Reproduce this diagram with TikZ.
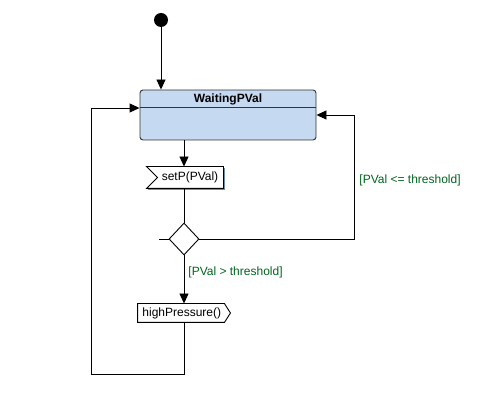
\documentclass[tikz,border=0pt]{standalone}
\usepackage{fontspec}
\setmainfont{Liberation Sans}
\usetikzlibrary{arrows.meta,shapes.geometric,calc}
\definecolor{statefill}{RGB}{197,217,241}
\definecolor{guard}{RGB}{0,100,30}
\definecolor{edgeblue}{RGB}{110,140,165}
\begin{document}
\begin{tikzpicture}[x=1pt,y=-1pt,line width=0.9pt,
  arr/.style={-{Triangle[length=10pt,width=9pt]}},
  lbl/.style={font=\fontsize{12}{14}\selectfont},
  guardlbl/.style={lbl,text=guard,anchor=west,inner sep=0pt},
  box/.style={draw=none,inner sep=0pt}]
\useasboundingbox (0,0) rectangle (479,419);
% initial
\node[circle,fill=black,minimum size=14pt,inner sep=0pt] (init) at (161,20) {};
% state
\node[draw=black!80,fill=statefill,rounded corners=3pt,minimum width=176pt,minimum height=50pt,inner sep=0pt] (state) at (228,115) {};
\draw[black!80] (140,107) -- (316,107);
\node[lbl,font=\fontsize{12}{14}\selectfont\bfseries,inner sep=0pt] (title) at (228,99) {WaitingPVal};
% setP receive signal
\node[box,minimum width=76pt,minimum height=21pt] (setp) at (185,177.5) {};
\draw[edgeblue,line width=1.5pt] ($(setp.north east)+(1,1)$) -- ($(setp.south east)+(1,1)$) -- ($(setp.south west)+(1,1)$);
\draw[fill=white] (setp.north west) -- (setp.north east) -- (setp.south east) -- (setp.south west) -- ($(setp.west)+(11,0)$) -- cycle;
\node[lbl,inner sep=0pt] (setptext) at (190,177.5) {setP(PVal)};
% decision
\node[draw,diamond,fill=white,minimum width=30pt,minimum height=32pt,inner sep=0pt] (dia) at (184,239) {};
\coordinate (stub) at (159,239);
\draw (dia.west) -- (stub);
% highPressure send signal
\node[box,minimum width=88pt,minimum height=18pt] (hp) at (182,313) {};
\draw[fill=white] (hp.north west) -- ($(hp.north east)+(-2,0)$) -- ($(hp.east)+(4,0)$) -- ($(hp.south east)+(-2,0)$) -- (hp.south west) -- cycle;
\node[lbl,inner sep=0pt,anchor=west] (hptext) at (142,313) {highPressure()};
% connectors
\draw[arr] (init) -- (init |- state.north);
\coordinate (sx) at (184,140);
\draw[arr] (sx) -- (sx |- setp.north);
\draw (sx |- setp.south) -- (dia.north);
\draw[arr] (dia.south) -- (dia.south |- hp.north);
\node[guardlbl] (g1) at (188,272) {[PVal > threshold]};
\coordinate (rc) at (354,115);
\draw[arr] (dia.east) -| (rc) -- (rc -| state.east);
\node[guardlbl] (g2) at (359,180.5) {[PVal <= threshold]};
\coordinate (lb) at (91,374);
\coordinate (lt) at (91,108);
\draw[arr] (dia.south |- hp.south) |- (lb) -- (lt) -- (lt -| state.west);
\end{tikzpicture}
\end{document}
